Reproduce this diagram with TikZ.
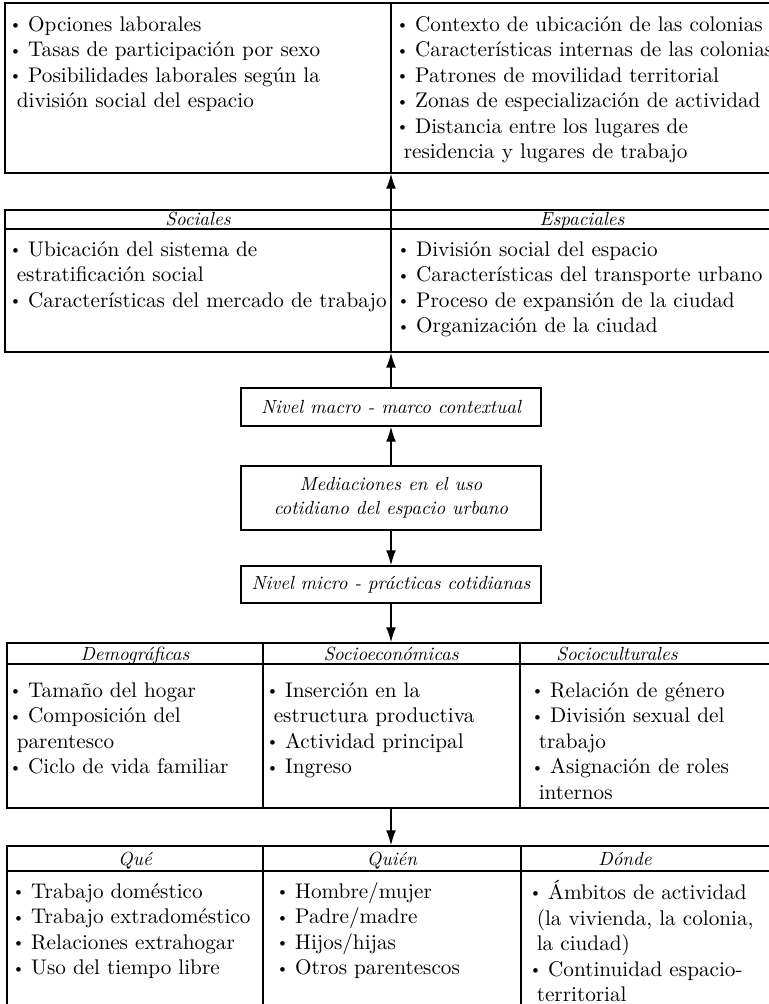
\documentclass[tikz,border=0pt]{standalone}
\usepackage{graphicx}
\usetikzlibrary{arrows.meta}

\newcommand{\cuerpo}{\fontsize{10.6}{12.75}\selectfont}
\newcommand{\cursiva}{\fontsize{9.5}{12}\selectfont\itshape}
\newcommand{\vin}{\strut\raisebox{0.08em}{\scalebox{0.75}{\textbullet}}\hspace{0.3em}}
\newcommand{\sig}{\strut\hspace{0.35em}}

\tikzset{
  marco/.style={draw, line width=0.75pt, inner sep=0pt},
  caja/.style={draw, line width=0.75pt, font=\cursiva, minimum width=150pt, align=center},
  lista/.style={anchor=north west, align=left, inner sep=0pt, font=\cuerpo},
  titulo/.style={anchor=base, inner sep=0pt, font=\cursiva},
  flecha/.style={line width=0.75pt, -{Latex[length=7.5pt,width=5pt]}},
  linea/.style={line width=0.75pt}
}

\begin{document}
\begin{tikzpicture}[x=0.5pt, y=-0.5pt]
    \useasboundingbox (0,0) rectangle (769,1004);
    \clip (0,0) rectangle (769,1004);

    % Contexto laboral y territorial
    \node[marco, minimum width=386pt, minimum height=85pt] (ubica) at (391,88) {};
    \draw[linea] (391,3) -- (391,173);
    \node[lista] (labor) at (9,13) {\vin Opciones laborales\\ \vin Tasas de participación por sexo\\ \vin Posibilidades laborales según la\\ \sig división social del espacio};
    \node[lista] (territ) at (396,13) {\vin Contexto de ubicación de las colonias\\ \vin Características internas de las colonias\\ \vin Patrones de movilidad territorial\\ \vin Zonas de especialización de actividad\\ \vin Distancia entre los lugares de\\ \sig residencia y lugares de trabajo};

    % Sociales / Espaciales
    \node[marco, minimum width=386pt, minimum height=71pt] (contexto) at (391,281) {};
    \draw[linea] (5,229) -- (777,229);
    \draw[linea] (391,210) -- (391,352);
    \node[titulo] (soc) at (198,225.5) {Sociales};
    \node[titulo] (esp) at (582,225.5) {Espaciales};
    \node[lista] (soclist) at (9,238) {\vin Ubicación del sistema de\\ \sig estratificación social\\ \vin Características del mercado de trabajo};
    \node[lista] (esplist) at (397,238) {\vin División social del espacio\\ \vin Características del transporte urbano\\ \vin Proceso de expansión de la ciudad\\ \vin Organización de la ciudad};

    % Niveles
    \node[caja, minimum height=19pt] (nivmacro) at (391,407) {Nivel macro - marco contextual};
    \node[caja, minimum height=32pt] (media) at (391,498) {Mediaciones en el uso\\cotidiano del espacio urbano};
    \node[caja, minimum height=18.5pt] (nivmicro) at (391,584.5) {Nivel micro - prácticas cotidianas};

    % Mediaciones del hogar
    \node[marco, minimum width=384pt, minimum height=82.5pt] (condic) at (391,725.5) {};
    \draw[linea] (7,664) -- (775,664);
    \draw[linea] (263,643) -- (263,808);
    \draw[linea] (520,643) -- (520,808);
    \node[titulo] (demo) at (135,660) {Demográficas};
    \node[titulo] (socec) at (391,660) {Socioeconómicas};
    \node[titulo] (socul) at (617,660) {Socioculturales};
    \node[lista] (demolist) at (9,679) {\vin Tamaño del hogar\\ \vin Composición del\\ \sig parentesco\\ \vin Ciclo de vida familiar};
    \node[lista] (soceclist) at (266,679) {\vin Inserción en la\\ \sig estructura productiva\\ \vin Actividad principal\\ \vin Ingreso};
    \node[lista] (socullist) at (531,679) {\vin Relación de género\\ \vin División sexual del\\ \sig trabajo\\ \vin Asignación de roles\\ \sig internos};

    % Practicas cotidianas
    \node[marco, minimum width=384pt, minimum height=83pt] (practic) at (391,929) {};
    \draw[linea] (7,871) -- (775,871);
    \draw[linea] (263,846) -- (263,1012);
    \draw[linea] (521,846) -- (521,1012);
    \node[titulo] (que) at (135,865) {Qué};
    \node[titulo] (quien) at (392,865) {Quién};
    \node[titulo] (donde) at (625,865) {Dónde};
    \node[lista] (quelist) at (12,880) {\vin Trabajo doméstico\\ \vin Trabajo extradoméstico\\ \vin Relaciones extrahogar\\ \vin Uso del tiempo libre};
    \node[lista] (quienlist) at (276,880) {\vin Hombre/mujer\\ \vin Padre/madre\\ \vin Hijos/hijas\\ \vin Otros parentescos};
    \node[lista] (dondelist) at (529,880) {\vin Ámbitos de actividad\\ \sig (la vivienda, la colonia,\\ \sig la ciudad)\\ \vin Continuidad espacio-\\ \sig territorial};

    % Flechas
    \draw[flecha] (contexto) -- (ubica);
    \draw[flecha] (nivmacro) -- (contexto);
    \draw[flecha] (media) -- (nivmacro);
    \draw[flecha] (media) -- (nivmicro);
    \draw[flecha] (nivmicro) -- (condic);
    \draw[flecha] (condic) -- (practic);
\end{tikzpicture}
\end{document}
